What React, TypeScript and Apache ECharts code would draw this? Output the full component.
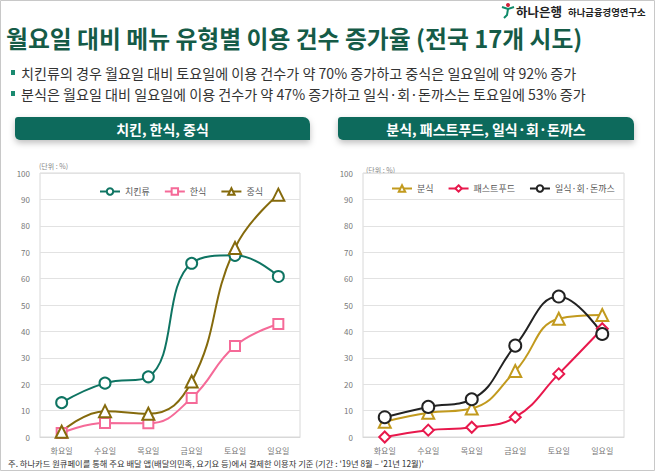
import React, { useEffect, useRef } from "react";
import * as echarts from "echarts";

const days = ["화요일", "수요일", "목요일", "금요일", "토요일", "일요일"];
const chicken = [13, 20.4, 22.8, 65.8, 68.8, 60.8];
const korean = [1.5, 5.3, 5.2, 14.8, 34.5, 42.8];
const chinese = [2, 9.8, 8.8, 21, 71.6, 91.8];
const bunsik = [5.8, 9.2, 10.8, 25, 44.8, 46.2];
const fastfood = [0, 2.6, 3.7, 7.5, 23.9, 41];
const japanese = [7.5, 11.4, 14.3, 34.6, 53.2, 39];
const yTicks = { min: 0, max: 100, interval: 10 };

const TITLE = "월요일 대비 메뉴 유형별 이용 건수 증가율 (전국 17개 시도)";
const BULLETS = [
  "치킨류의 경우 월요일 대비 토요일에 이용 건수가 약 70% 증가하고 중식은 일요일에 약 92% 증가",
  "분식은 월요일 대비 일요일에 이용 건수가 약 47% 증가하고 일식·회·돈까스는 토요일에 53% 증가",
];
const HEADERS = ["치킨, 한식, 중식", "분식, 패스트푸드, 일식·회·돈까스"];
const FOOTNOTE =
  "주. 하나카드 원큐페이를 통해 주요 배달 앱(배달의민족, 요기요 등)에서 결제한 이용자 기준 (기간 : '19년 8월 – '21년 12월)'";

const FONT = "'Noto Sans CJK KR', 'Noto Sans', sans-serif";

export default function App() {
  const ref = useRef<HTMLDivElement>(null);
  useEffect(() => {
    const chart = echarts.init(ref.current!, null, { renderer: "svg" });
    const axisLabel = { fontSize: 8, color: "#777", fontFamily: FONT };
    const mkX = (gi: number) => ({
      type: "category",
      gridIndex: gi,
      data: days,
      boundaryGap: true,
      axisTick: { show: false },
      axisLine: { lineStyle: { color: "#d8d8d8" } },
      axisLabel: { ...axisLabel, margin: 9 },
    });
    const mkY = (gi: number) => ({
      type: "value",
      gridIndex: gi,
      ...yTicks,
      axisLine: { show: false },
      axisTick: { show: false },
      splitLine: { lineStyle: { color: "#e2e2e2" } },
      axisLabel: { ...axisLabel, margin: 10 },
    });
    const mkS = (name: string, data: number[], gi: number, color: string, symbol: string, size: number) => ({
      name,
      type: "line",
      xAxisIndex: gi,
      yAxisIndex: gi,
      data,
      smooth: 0.45,
      symbol,
      symbolSize: size,
      lineStyle: { color, width: 2 },
      itemStyle: { color, borderWidth: 1.6 },
    });
    const legendBase = {
      itemWidth: 20,
      itemHeight: 8,
      itemGap: 14,
      textStyle: { fontSize: 9, color: "#555", fontFamily: FONT },
    };
    const header = (x: number, w: number, text: string) => ({
      type: "group",
      children: [
        {
          type: "rect",
          shape: { x, y: 117, width: w, height: 23, r: [3, 7, 0, 5] },
          style: { fill: "#0b6b5b", shadowBlur: 6, shadowOffsetY: 3, shadowColor: "rgba(0,0,0,0.25)" },
        },
        {
          type: "text",
          x: x + w / 2,
          y: 128.5,
          style: {
            text,
            fill: "#fff",
            font: `bold 14px ${FONT}`,
            align: "center",
            verticalAlign: "middle",
          },
        },
      ],
    });
    chart.setOption({
      animation: false,
      backgroundColor: "#fff",
      textStyle: { fontFamily: FONT },
      grid: [
        { left: 40, right: 356, top: 173, bottom: 35, show: true, borderColor: "#d8d8d8", borderWidth: 1 },
        { left: 363, right: 32, top: 173, bottom: 35, show: true, borderColor: "#d8d8d8", borderWidth: 1 },
      ],
      xAxis: [mkX(0), mkX(1)],
      yAxis: [mkY(0), mkY(1)],
      legend: [
        { ...legendBase, left: 94, top: 182, data: ["치킨류", "한식", "중식"] },
        { ...legendBase, left: 386, top: 179, data: ["분식", "패스트푸드", "일식·회·돈까스"] },
      ],
      series: [
        mkS("치킨류", chicken, 0, "#0e7462", "emptyCircle", 11),
        mkS("한식", korean, 0, "#f56a98", "emptyRect", 10),
        mkS("중식", chinese, 0, "#856a0c", "emptyTriangle", 12),
        mkS("분식", bunsik, 1, "#c29a1e", "emptyTriangle", 12),
        mkS("패스트푸드", fastfood, 1, "#e8184c", "emptyDiamond", 11),
        mkS("일식·회·돈까스", japanese, 1, "#222222", "emptyCircle", 12),
      ],
      graphic: [
        {
          type: "rect",
          shape: { x: 0.5, y: 0.5, width: 654, height: 470 },
          style: { fill: "none", stroke: "#c8c8c8", lineWidth: 1 },
          z: 100,
        },
        {
          type: "text",
          x: 6,
          y: 37,
          style: { text: TITLE, fill: "#155b47", font: `bold 23.8px ${FONT}`, verticalAlign: "middle" },
        },
        {
          type: "circle",
          shape: { cx: 508, cy: 5, r: 2 },
          style: { fill: "#d0213a" },
        },
        {
          type: "polyline",
          shape: { points: [[502, 7], [508, 9], [514, 7]] },
          style: { stroke: "#0f8a6a", lineWidth: 2, fill: "none" },
        },
        {
          type: "polyline",
          shape: { points: [[508, 9], [507, 15], [504, 18]] },
          style: { stroke: "#0f8a6a", lineWidth: 2, fill: "none" },
        },
        {
          type: "text",
          x: 516,
          y: 11,
          style: { text: "하나은행", fill: "#222", font: `bold 12.5px ${FONT}`, verticalAlign: "middle" },
        },
        {
          type: "text",
          x: 568,
          y: 12,
          style: { text: "하나금융경영연구소", fill: "#222", font: `bold 9.4px ${FONT}`, verticalAlign: "middle" },
        },
        ...BULLETS.flatMap((t, i) => [
          {
            type: "rect",
            shape: { x: 11, y: 70 + i * 21, width: 4, height: 5 },
            style: { fill: "#1a8a70" },
          },
          {
            type: "text",
            x: 21,
            y: 73 + i * 21,
            style: { text: t, fill: "#333", font: `14.1px ${FONT}`, verticalAlign: "middle" },
          },
        ]),
        header(15, 295, HEADERS[0]),
        header(338, 296, HEADERS[1]),
        {
          type: "text",
          x: 39,
          y: 166,
          style: { text: "(단위 : %)", fill: "#888", font: `7px ${FONT}`, verticalAlign: "middle" },
        },
        {
          type: "text",
          x: 366,
          y: 170,
          style: { text: "(단위 : %)", fill: "#888", font: `7px ${FONT}`, verticalAlign: "middle" },
        },
        {
          type: "text",
          x: 8,
          y: 463,
          style: { text: FOOTNOTE, fill: "#333", font: `8.3px ${FONT}`, verticalAlign: "middle" },
        },
      ],
    });
    return () => chart.dispose();
  }, []);
  return (
    <div
      ref={ref}
      style={{ position: "fixed", left: 0, top: 0, width: 656, height: 472, background: "#fff" }}
    />
  );
}
